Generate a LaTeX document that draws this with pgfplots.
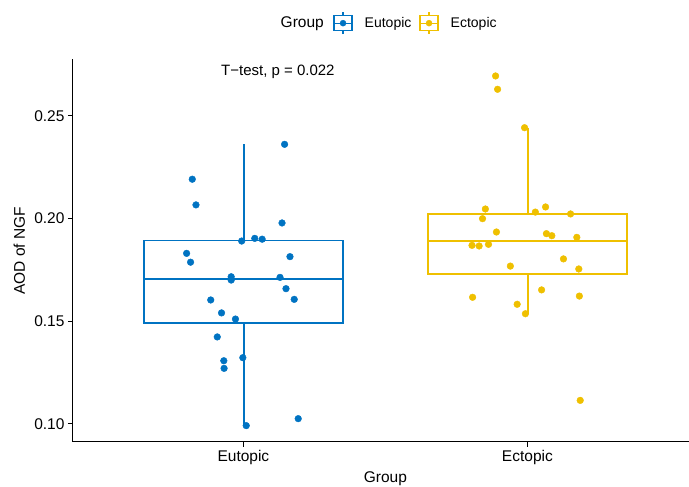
\documentclass[border=0pt]{standalone}
\usepackage{pgfplots}
\pgfplotsset{compat=1.18}
\usepackage{pgfplotstable}
\usepackage{fontspec}
\setmainfont{Liberation Sans}
\definecolor{eublue}{HTML}{0073C2}
\definecolor{ecyel}{HTML}{EFC000}

\pgfplotstableread{
x y
1.145 0.2362
0.820 0.2192
0.833 0.2067
1.136 0.1979
0.994 0.1891
1.040 0.1904
1.066 0.1900
0.800 0.1831
0.814 0.1788
1.164 0.1815
0.957 0.1717
0.957 0.1701
1.129 0.1714
1.150 0.1659
1.179 0.1607
0.885 0.1604
0.923 0.1541
0.972 0.1511
0.908 0.1424
0.998 0.1323
0.931 0.1308
0.932 0.1271
1.010 0.0992
1.193 0.1026
}\eutopic

\pgfplotstableread{
x y
1.888 0.2695
1.895 0.2630
1.990 0.2443
1.852 0.2047
2.064 0.2057
2.028 0.2032
2.152 0.2023
1.842 0.2000
1.891 0.1935
2.067 0.1927
2.086 0.1917
2.174 0.1909
1.805 0.1870
1.830 0.1867
1.863 0.1875
1.940 0.1769
2.127 0.1804
2.181 0.1755
2.050 0.1653
1.807 0.1617
2.183 0.1623
1.964 0.1583
1.993 0.1537
2.186 0.1115
}\ectopic

\begin{document}
\begin{tikzpicture}
\begin{axis}[
  name=ax,
  scale only axis,
  width=624.8pt, height=382.7pt,
  xmin=0.4, xmax=2.6,
  ymin=0.09123, ymax=0.27761,
  axis x line*=bottom, axis y line*=left,
  axis line style={-, line width=1pt, black},
  clip=false,
  xtick={1,2}, xticklabels={Eutopic,Ectopic},
  ytick={0.10,0.15,0.20,0.25},
  yticklabel style={/pgf/number format/.cd, fixed, fixed zerofill, precision=2, assume math mode=true},
  tick align=outside, major tick length=5pt,
  tick style={line width=1pt, black},
  ticklabel style={font=\fontsize{15.5}{18}\selectfont, text=black},
  xlabel={Group}, ylabel={AOD of NGF},
  label style={font=\fontsize{15.5}{18}\selectfont},
  xlabel style={at={(axis description cs:0.5,-0.097)}, anchor=center},
  ylabel style={at={(axis description cs:-0.086,0.5)}, anchor=center},
  legend columns=-1,
  legend style={draw=none, fill=none, at={(axis description cs:0.5474,1.0944)}, anchor=center,
    font=\fontsize{14}{17}\selectfont,
    nodes={inner sep=0pt},
    /tikz/every odd column/.append style={column sep=12pt},
    /tikz/every even column/.append style={column sep=8pt}},
]
% Eutopic box
\addplot[forget plot, draw=eublue, line width=1.6pt, fill=white] coordinates {(0.65,0.1493) (1.35,0.1493) (1.35,0.1893) (0.65,0.1893)} -- cycle;
\addplot[forget plot, draw=eublue, line width=1.9pt] coordinates {(1.002,0.1893) (1.002,0.2362)};
\addplot[forget plot, draw=eublue, line width=1.9pt] coordinates {(1.002,0.1493) (1.002,0.0992)};
\addplot[forget plot, draw=eublue, line width=2.8pt] coordinates {(0.65,0.1706) (1.35,0.1706)};
% Ectopic box
\addplot[forget plot, draw=ecyel, line width=1.6pt, fill=white] coordinates {(1.65,0.1731) (2.35,0.1731) (2.35,0.2023) (1.65,0.2023)} -- cycle;
\addplot[forget plot, draw=ecyel, line width=1.9pt] coordinates {(2.002,0.2023) (2.002,0.2443)};
\addplot[forget plot, draw=ecyel, line width=1.9pt] coordinates {(2.002,0.1731) (2.002,0.1537)};
\addplot[forget plot, draw=ecyel, line width=2.8pt] coordinates {(1.65,0.1891) (2.35,0.1891)};
% points
\addplot[forget plot, only marks, mark=*, mark size=3.35pt, eublue, mark options={fill=eublue, draw=none}] table[x=x,y=y] {\eutopic};
\addplot[forget plot, only marks, mark=*, mark size=3.35pt, ecyel, mark options={fill=ecyel, draw=none}] table[x=x,y=y] {\ectopic};
\addlegendimage{legend image code/.code={
  \draw[eublue, line width=1.3pt, fill=white] (0pt,-7.5pt) rectangle (18pt,7.5pt);
  \draw[eublue, line width=1.3pt] (9pt,-11pt)--(9pt,-7.5pt) (9pt,7.5pt)--(9pt,11pt) (0pt,0pt)--(18pt,0pt);
  \fill[eublue] (9pt,0pt) circle (3pt);}}
\addlegendentry{Eutopic}
\addlegendimage{legend image code/.code={
  \draw[ecyel, line width=1.3pt, fill=white] (0pt,-7.5pt) rectangle (18pt,7.5pt);
  \draw[ecyel, line width=1.3pt] (9pt,-11pt)--(9pt,-7.5pt) (9pt,7.5pt)--(9pt,11pt) (0pt,0pt)--(18pt,0pt);
  \fill[ecyel] (9pt,0pt) circle (3pt);}}
\addlegendentry{Ectopic}
\node[anchor=east, inner sep=0pt, font=\fontsize{15.5}{18}\selectfont] at (axis description cs:0.4017,1.092) {Group};
\node[anchor=west, inner sep=0pt, font=\fontsize{15}{18}\selectfont] at (axis cs:0.921,0.2714) {T−test, p = 0.022};
\end{axis}
\pgfresetboundingbox
\path[use as bounding box] ([shift={(-73pt,-45pt)}]ax.south west) rectangle ([shift={(616pt,442pt)}]ax.south west);
\end{tikzpicture}
\end{document}
